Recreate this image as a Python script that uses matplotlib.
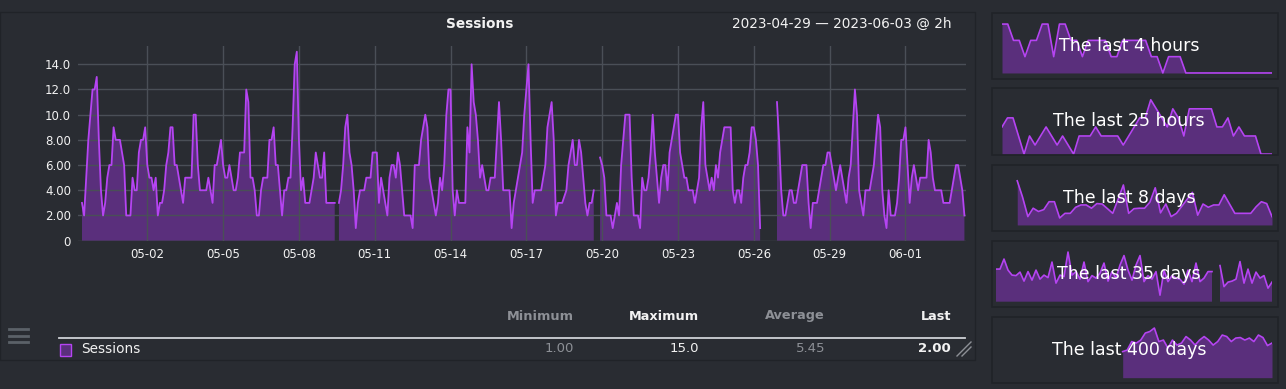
import numpy as np
import pandas as pd
import matplotlib
matplotlib.use("Agg")
import matplotlib.pyplot as plt
from matplotlib.patches import Rectangle
from matplotlib.lines import Line2D

nan = np.nan

# sessions every 2h, from 2023-04-29 10:00
sessions = [
    3, 2, 5, 8, 10, 12, 12, 13, 8, 4,
    2, 3, 5, 6, 6, 9, 8, 8, 8, 7,
    6, 2, 2, 2, 5, 4, 4, 7, 8, 8,
    9, 6, 5, 5, 4, 5, 2, 3, 3, 4,
    6, 7, 9, 9, 6, 6, 5, 4, 3, 5,
    5, 5, 5, 10, 10, 6, 4, 4, 4, 4,
    5, 4, 3, 6, 6, 7, 8, 6, 5, 5,
    6, 5, 4, 4, 5, 7, 7, 7, 12, 11,
    5, 5, 4, 2, 2, 4, 5, 5, 5, 8,
    8, 9, 6, 6, 4, 2, 4, 4, 5, 5,
    9, 14, 15, 8, 4, 5, 3, 3, 3, 4,
    5, 7, 6, 5, 5, 7, 3, 3, 3, 3,
    3, nan, 3, 4, 6, 9, 10, 7, 6, 4,
    1, 3, 4, 4, 4, 5, 5, 5, 7, 7,
    7, 3, 5, 4, 3, 2, 5, 6, 6, 5,
    7, 6, 4, 2, 2, 2, 2, 1, 6, 6,
    6, 8, 9, 10, 9, 5, 4, 3, 2, 3,
    5, 4, 6, 10, 12, 12, 4, 2, 4, 3,
    3, 3, 3, 9, 7, 14, 11, 10, 8, 5,
    6, 5, 4, 4, 5, 5, 5, 8, 11, 8,
    4, 4, 4, 4, 1, 3, 4, 5, 6, 7,
    10, 12, 14, 8, 3, 4, 4, 4, 4, 5,
    6, 9, 10, 11, 8, 2, 3, 3, 3, 3.5,
    4, 6, 7, 8, 6, 6, 8, 7, 5, 3,
    2, 3, 3, 4, nan, nan, 6.6, 6, 5, 2,
    2, 2, 1, 2, 3, 2, 6, 8, 10, 10,
    10, 5, 2, 2, 2, 1, 5, 4, 4, 5,
    7, 10, 7, 5, 3, 5, 6, 6, 4, 7,
    8, 9, 10, 10, 7, 6, 5, 5, 4, 4,
    4, 3, 4, 5, 9, 11, 6, 5, 4, 5,
    4, 6, 5, 7, 8, 9, 9, 9, 9, 4,
    3, 4, 4, 3, 5, 6, 6, 7, 9, 9,
    8, 6, 1, nan, nan, nan, nan, nan, nan, nan,
    11, 8, 4, 2, 2, 3, 4, 4, 3, 3,
    4, 5, 6, 6, 6, 3, 1, 3, 3, 3,
    4, 5, 6, 6, 7, 7, 6, 5, 4, 5,
    6, 5, 4, 3, 5, 6, 9, 12, 10, 4,
    3, 2, 4, 4, 4, 5, 6, 8, 10, 9,
    4, 2, 1, 4, 2, 2, 2, 3, 5, 8,
    8, 9, 6, 3, 5, 6, 5, 4, 5, 5,
    5, 5, 8, 7, 5, 4, 4, 4, 4, 3,
    3, 3, 3, 4, 5, 6, 6, 5, 4, 2,
]
start = "2023-04-29 10:00"
tick_days = pd.date_range("2023-05-02", "2023-06-01", freq="3D")
y_ticks = [0, 2, 4, 6, 8, 10, 12, 14]
y_labels = ["0", "2.00", "4.00", "6.00", "8.00", "10.0", "12.0", "14.0"]

stat_names = ["Minimum", "Maximum", "Average", "Last"]
stat_values = ["1.00", "15.0", "5.45", "2.00"]

thumb_titles = ["The last 4 hours", "The last 25 hours", "The last 8 days",
                "The last 35 days", "The last 400 days"]
last_4_hours = [3, 3, 2, 2, 1, 2, 2, 3, 3, 1, 3, 3, 2, 2, 1, 2, 2, 2, 2, 1,
                1, 2, 2, 2, 2, 2, 1, 1, 0, 1, 1, 1] + [0] * 16
last_25_hours = [3, 4, 4, 2, 0, 2, 1, 2, 3, 2, 1, 2, 1, 0, 2, 2, 2, 3, 2, 2,
                 2, 2, 1, 2, 3, 4, 4, 6, 5, 4, 3, 5, 4, 2, 5, 5, 5, 5, 5, 3,
                 3, 4, 2, 3, 2, 2, 2, 0, 0, 0]
last_8_days = [nan] * 4 + [9.5, 6, 1.8, 3.6, 2.9, 3.3, 5, 5, 1.5, 2.5, 2.5, 3.8,
                           4.3, 4.3, 3.6, 4.6, 4.5, 3.5, 2.5, 5.5, 8.6, 2.5, 3.5,
                           3.6, 3.6, 4.9, 8, 2.6, 4.5, 1.8, 2.5, 4, 5.5, 7, 2.1,
                           4.5, 3.8, 4.3, 4.3, 6.5, 4.5, 2.5, 2.5, 2.5, 2.5, 3.9,
                           5, 4.6, 1.8]
last_35_days = [6.5, 6.5, 8.5, 6.3, 5.3, 5.2, 5.9, 4.1, 6, 4.3, 6.3, 4.5, 5.3,
                4.8, 7.9, 3.7, 5.3, 5, 9.9, 5.3, 6, 4.5, 7.9, 4, 5.2, 4.7, 5.7,
                7.7, 4.1, 6, 4.7, 7.3, 9.2, 6.3, 4.3, 7.3, 9.2, 4, 5.2, 4.5, 6,
                1.3, 6.3, 4, 5.2, 4.7, 4.5, 3.5, 6.3, 4, 7.7, 4, 4.7, 6, 6, nan,
                7.2, 3, 3.9, 4.1, 4.5, 8, 3.7, 6.5, 3.7, 5.9, 4.7, 5.2, 2.7, 3.9]
last_400_days = [nan] * 28 + [5.2, 5.5, 7.2, 6.9, 7.5, 8.9, 9.2, 9.9, 7.2, 7.5,
                              5.9, 7.5, 6.5, 6.9, 8.2, 7.5, 6.5, 7.5, 8.2, 7.5,
                              6.5, 7.2, 8.5, 8.2, 7.2, 7.9, 8, 7.5, 7.9, 7.2,
                              8.5, 8, 6.4, 6.9]
thumbs = [last_4_hours, last_25_hours, last_8_days, last_35_days, last_400_days]

BG = "#292c32"
EDGE = "#202328"
GRID = "#4a4f57"
LINE = "#b544f2"
FILL = "#5a2f7c"
WHITE = "#f2f2f2"
GRAY = "#8d9096"

W, H = 1286, 389
fig = plt.figure(figsize=(W / 100, H / 100), dpi=100, facecolor=BG)


def rect(x0, y0, x1, y1):
    return [x0 / W, 1 - y1 / H, (x1 - x0) / W, (y1 - y0) / H]


def fx(x):
    return x / W


def fy(y):
    return 1 - y / H


# panel border
fig.patches.append(Rectangle((0, fy(360)), fx(975), (360 - 12) / H,
                             transform=fig.transFigure, fill=False,
                             edgecolor=EDGE, lw=1))

# main chart
ax = fig.add_axes(rect(78, 46, 966, 240.7))
ax.set_facecolor("none")
times = pd.date_range(start, periods=len(sessions), freq="2h").to_pydatetime()
vals = np.array(sessions, dtype=float)
ax.fill_between(times, 0, vals, color=FILL, lw=0, zorder=1)
ax.plot(times, vals, color=LINE, lw=1.3, zorder=3)
ax.set_xlim(times[0] - pd.Timedelta(hours=3.8), times[-1] + pd.Timedelta(hours=1.5))
ax.set_ylim(0, 15.45)
ax.set_xticks(list(tick_days.to_pydatetime()))
ax.set_xticklabels(tick_days.strftime("%m-%d"))
ax.set_yticks(y_ticks)
ax.set_yticklabels(y_labels)
ax.tick_params(length=0, colors=WHITE, labelsize=8.5, pad=5)
ax.grid(True, color=GRID, lw=1)
ax.set_axisbelow(False)
for sp in ax.spines.values():
    sp.set_visible(False)

fig.text(fx(480), fy(24), "Sessions", ha="center", va="center",
         fontsize=9.8, fontweight="bold", color=WHITE)
fig.text(fx(952), fy(24), "2023-04-29 \u2014 2023-06-03 @ 2h", ha="right",
         va="center", fontsize=9.8, color=WHITE)

# legend table
stat_x = [574, 699, 825, 951]
stat_colors = [GRAY, WHITE, GRAY, WHITE]
for name, val, x, c in zip(stat_names, stat_values, stat_x, stat_colors):
    fig.text(fx(x), fy(316), name, ha="right", va="center", fontsize=9.3,
             fontweight="bold", color=c)
    fig.text(fx(x), fy(349), val, ha="right", va="center", fontsize=9.5,
             fontweight="bold" if name == "Last" else "normal", color=c)
fig.add_artist(Line2D([fx(59), fx(965)], [fy(338), fy(338)], color="#cfd2d6",
                      lw=1.3, transform=fig.transFigure))
fig.patches.append(Rectangle((fx(60), fy(356)), 11 / W, 12 / H,
                             transform=fig.transFigure, facecolor=FILL,
                             edgecolor=LINE, lw=1))
fig.text(fx(81), fy(349), "Sessions", ha="left", va="center", fontsize=9.8,
         color=WHITE)
# resize grip and menu icon
fig.add_artist(Line2D([fx(957), fx(971)], [fy(356), fy(342)],
                      color=GRAY, lw=1, transform=fig.transFigure))
fig.add_artist(Line2D([fx(962), fx(971)], [fy(356), fy(347)],
                      color=GRAY, lw=1, transform=fig.transFigure))
for y in [329, 335.5, 342]:
    fig.add_artist(Line2D([fx(9), fx(28)], [fy(y), fy(y)], color="#5b6168",
                          lw=2, transform=fig.transFigure))

# thumbnails
boxes = [(13, 79), (88, 155), (165, 231), (241, 307), (317, 383)]
data_left = [1002, 1002, 996, 996, 996]
ylims = [(-0.37, 3.68), (-0.1, 7.3), (-1.3, 12.9), (-1.06, 12.1), (-1.06, 12.1)]
for vals_t, title, (y0, y1), xl, yl in zip(thumbs, thumb_titles, boxes, data_left, ylims):
    fig.patches.append(Rectangle((fx(992), fy(y1)), (1278 - 992) / W, (y1 - y0) / H,
                                 transform=fig.transFigure, fill=False,
                                 edgecolor=EDGE, lw=1.2))
    tax = fig.add_axes(rect(xl, y0, 1272, y1))
    tax.set_facecolor("none")
    v = np.array(vals_t, dtype=float)
    idx = np.arange(len(v))
    tax.fill_between(idx, 0, v, color=FILL, lw=0)
    tax.plot(idx, v, color=LINE, lw=1.2)
    tax.set_xlim(0, len(v) - 1)
    tax.set_ylim(*yl)
    tax.axis("off")
    fig.text(fx(1129), fy((y0 + y1) / 2), title, ha="center", va="center",
             fontsize=12.5, color="white", zorder=5)

fig.savefig("out.png", dpi=100, facecolor=BG)
